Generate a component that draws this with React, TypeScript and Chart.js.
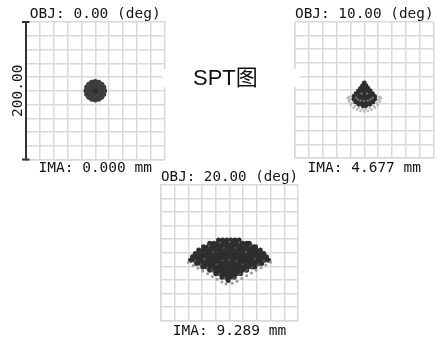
import React, { useEffect, useRef } from "react";
import { Chart, registerables } from "chart.js";

Chart.register(...registerables);

// ---------- data (µm on the image plane, grid = ±100 µm) ----------
const AXIS_MIN = -100;
const AXIS_MAX = 100;
const GRID_STEP = 20;
const scaleBarLabel = "200.00";
const mainTitle = "SPT图";
const fieldLabels = ["OBJ: 0.00 (deg)", "OBJ: 10.00 (deg)", "OBJ: 20.00 (deg)"];
const imageLabels = ["IMA: 0.000 mm", "IMA: 4.677 mm", "IMA: 9.289 mm"];

type Pt = [number, number];

// field 0°: round dot
const spot0Core: Pt[] = [
  [0, 0],
  [4.5, 0], [2.25, 3.9], [-2.25, 3.9], [-4.5, 0], [-2.25, -3.9], [2.25, -3.9],
  [9, 0], [7.8, 4.5], [4.5, 7.8], [0, 9], [-4.5, 7.8], [-7.8, 4.5], [-9, 0],
  [-7.8, -4.5], [-4.5, -7.8], [0, -9], [4.5, -7.8], [7.8, -4.5],
  [13, 0], [12, 5], [9.2, 9.2], [5, 12], [0, 13], [-5, 12], [-9.2, 9.2], [-12, 5],
  [-13, 0], [-12, -5], [-9.2, -9.2], [-5, -12], [0, -13], [5, -12], [9.2, -9.2], [12, -5],
];
const spot0Center: Pt[] = [[-1.5, 1], [1.5, 1], [-1.5, -1.5], [1.5, -1.5]];

// field 10°: cone with a faint halo below
const spot10Rows: [number, number[]][] = [
  [10.5, [0]],
  [6.5, [-2.5, 2.5]],
  [2.5, [-5.5, 0, 5.5]],
  [-1.5, [-8.5, -3, 3, 8.5]],
  [-5.5, [-12, -6, 0, 6, 12]],
  [-9.5, [-15, -10, -5, 0, 5, 10, 15]],
  [-13.5, [-15, -10, -5, 0, 5, 10, 15]],
  [-17.5, [-12.5, -7, -2, 2, 7, 12.5]],
  [-21, [-8, -3, 3, 8]],
  [-23, [-2, 2]],
];
const spot10Smile: Pt[] = [
  [-12, -11.5], [-9, -14], [-5, -15.5], [0, -16], [5, -15.5], [9, -14], [12, -11.5],
  [-4, -5], [4, -5],
];
const spot10Halo: Pt[] = [
  [-24, -12], [-22.5, -17], [-19.5, -22], [-15.5, -26], [-10.5, -29], [-5.5, -31],
  [0, -31.5], [5.5, -31], [10.5, -29], [15.5, -26], [19.5, -22], [22.5, -17], [24, -12],
  [-21, -14], [-18, -19.5], [-13.5, -23.5], [-8, -26.5], [-2.5, -28], [2.5, -28],
  [8, -26.5], [13.5, -23.5], [18, -19.5], [21, -14],
  [-22, -10], [22, -10],
];

// field 20°: fan shape
const spot20Rows: [number, number[]][] = [
  [19, [-16, -10, -4, 2, 8, 14]],
  [14, [-29, -23, -17, -11, -5, 1, 7, 13, 19, 25, 29]],
  [9, [-38, -32, -26, -20, -14, -8, -2, 4, 10, 16, 22, 28, 34, 38]],
  [4, [-45, -39, -33, -27, -21, -15, -9, -3, 3, 9, 15, 21, 27, 33, 39, 45]],
  [-1, [-50, -44, -38, -32, -26, -20, -14, -8, -2, 4, 10, 16, 22, 28, 34, 40, 46, 50]],
  [-6, [-54, -48, -42, -36, -30, -24, -18, -12, -6, 0, 6, 12, 18, 24, 30, 36, 42, 48, 54]],
  [-11, [-57, -51, -45, -39, -33, -27, -21, -15, -9, -3, 3, 9, 15, 21, 27, 33, 39, 45, 51, 57]],
  [-16, [-48, -42, -36, -30, -24, -18, -12, -6, 0, 6, 12, 18, 24, 30, 36, 42, 47]],
  [-21, [-39, -33, -27, -21, -15, -9, -3, 3, 9, 15, 21, 27, 33, 37]],
  [-26, [-29, -23, -17, -11, -5, 1, 7, 13, 19, 25]],
  [-31, [-20, -14, -8, -2, 4, 10, 16]],
  [-36, [-11, -5, 1, 7]],
  [-41, [-2]],
];
const spot20Texture: Pt[] = [
  [26, -25], [19.3, -17], [10.3, -11.8], [0, -10], [-10.3, -11.8], [-19.3, -17], [-26, -25],
  [36.8, -9.1], [24, 1.6], [8.3, 7.3], [-8.3, 7.3], [-24, 1.6], [-36.8, -9.1],
  [-50, -12], [-42, -17], [-33, -22], [-24, -27], [-15, -32], [-7, -37],
  [50, -12], [42, -17], [33, -22], [24, -27], [15, -32], [7, -37],
  [-14, 15], [0, 16], [14, 15], [-30, 10], [30, 10],
];
const spot20Edge: Pt[] = [
  [-60, -14], [-53, -19], [-46, -23], [-39, -27], [-32, -31], [-25, -35], [-18, -39],
  [-11, -43], [-5, -46], [60, -14], [53, -18], [46, -22], [39, -26], [32, -30],
  [25, -34], [18, -38], [11, -42], [4, -45],
];

// ---------- styling ----------
const GRID_COLOR = "#d9d9d9";
const TEXT_COLOR = "#151515";
const MONO = "'DejaVu Sans Mono', 'Liberation Mono', monospace";
const LABEL_SIZE = 14.5;

const toXY = (pts: Pt[]) => pts.map(([x, y]) => ({ x, y }));
const rowsToXY = (rows: [number, number[]][]) =>
  rows.flatMap(([y, xs]) => xs.map((x) => ({ x, y })));

const dotSet = (data: { x: number; y: number }[], color: string, r: number) => ({
  data,
  backgroundColor: color,
  borderWidth: 0,
  pointRadius: r,
  pointHoverRadius: r,
});

const scaleBarCaps = {
  id: "scaleBarCaps",
  afterDraw(chart: any) {
    const { ctx, chartArea } = chart;
    const x = chartArea.left;
    ctx.save();
    ctx.strokeStyle = "#333";
    ctx.lineWidth = 2;
    ctx.beginPath();
    ctx.moveTo(x - 3.5, chartArea.top);
    ctx.lineTo(x + 4, chartArea.top);
    ctx.moveTo(x - 3.5, chartArea.bottom);
    ctx.lineTo(x + 4, chartArea.bottom);
    ctx.stroke();
    ctx.restore();
  },
};

type PanelProps = {
  left: number;
  top: number;
  width: number;
  height: number;
  padLeft: number;
  padRight: number;
  xTitleTop: number;
  field: number;
  datasets: any[];
  scaleBar?: boolean;
};

function SpotPanel(p: PanelProps) {
  const ref = useRef<HTMLCanvasElement | null>(null);
  useEffect(() => {
    if (!ref.current) return;
    const labelFont = { family: MONO, size: LABEL_SIZE, lineHeight: 1 };
    const chart = new Chart(ref.current, {
      type: "scatter",
      data: { datasets: p.datasets },
      options: {
        animation: false,
        responsive: false,
        maintainAspectRatio: false,
        events: [],
        layout: { padding: { left: p.padLeft, right: p.padRight, top: 0, bottom: 0 } },
        plugins: {
          legend: { display: false },
          tooltip: { enabled: false },
          title: {
            display: true,
            text: fieldLabels[p.field],
            fullSize: false,
            color: TEXT_COLOR,
            font: { ...labelFont, weight: "normal" },
            padding: { top: 7, bottom: 0.5 },
          },
        },
        scales: {
          x: {
            type: "linear",
            min: AXIS_MIN,
            max: AXIS_MAX,
            ticks: { display: false, stepSize: GRID_STEP },
            grid: { color: GRID_COLOR, lineWidth: 1.5, drawTicks: false },
            border: { display: true, color: GRID_COLOR, width: 1.5 },
            title: {
              display: true,
              text: imageLabels[p.field],
              color: TEXT_COLOR,
              font: labelFont,
              padding: { top: p.xTitleTop, bottom: 0 },
            },
          },
          y: {
            type: "linear",
            min: AXIS_MIN,
            max: AXIS_MAX,
            ticks: { display: false, stepSize: GRID_STEP },
            grid: { color: GRID_COLOR, lineWidth: 1.5, drawTicks: false },
            border: p.scaleBar
              ? { display: true, color: "#333", width: 2 }
              : { display: true, color: GRID_COLOR, width: 1.5 },
            title: p.scaleBar
              ? {
                  display: true,
                  text: scaleBarLabel,
                  color: TEXT_COLOR,
                  font: labelFont,
                  padding: { top: 5.5, bottom: 0.5 },
                }
              : { display: false },
          },
        },
      } as any,
      plugins: p.scaleBar ? [scaleBarCaps] : [],
    });
    return () => chart.destroy();
  }, []);
  return (
    <canvas
      ref={ref}
      width={p.width}
      height={p.height}
      style={{ position: "absolute", left: p.left, top: p.top, width: p.width, height: p.height }}
    />
  );
}

export default function App() {
  const panel0 = [
    dotSet(toXY(spot0Center), "#262626", 1),
    dotSet(toXY(spot0Core), "#3e3e3e", 2.7),
  ];
  const panel10 = [
    dotSet(toXY(spot10Smile), "#6e6e6e", 1.2),
    dotSet(rowsToXY(spot10Rows), "#2f2f2f", 2.4),
    dotSet(toXY(spot10Halo), "#b4b4b4", 1.3),
  ];
  const panel20 = [
    dotSet(toXY(spot20Texture), "#5a5a5a", 1.1),
    dotSet(toXY(spot20Edge), "#9a9a9a", 1.5),
    dotSet(rowsToXY(spot20Rows), "#2e2e2e", 2.5),
  ];
  return (
    <div
      style={{
        position: "fixed",
        left: 0,
        top: 0,
        width: 436,
        height: 338,
        background: "#fff",
        overflow: "hidden",
      }}
    >
      <SpotPanel left={5} top={0} width={167} height={175} padLeft={0} padRight={7} xTitleTop={1} field={0} datasets={panel0} scaleBar />
      <SpotPanel left={292} top={0} width={144} height={175} padLeft={3} padRight={1} xTitleTop={2.5} field={1} datasets={panel10} />
      <SpotPanel left={155} top={163} width={150} height={175} padLeft={6} padRight={7} xTitleTop={3} field={2} datasets={panel20} />
      <div
        style={{
          position: "absolute",
          left: 162,
          top: 69,
          width: 107,
          height: 18,
          paddingLeft: 31,
          background: "#fff",
          fontFamily: "'Liberation Sans', 'Noto Sans CJK SC', sans-serif",
          fontSize: 22,
          lineHeight: "18px",
          color: "#111",
          whiteSpace: "nowrap",
        }}
      >
        {mainTitle}
      </div>
    </div>
  );
}
